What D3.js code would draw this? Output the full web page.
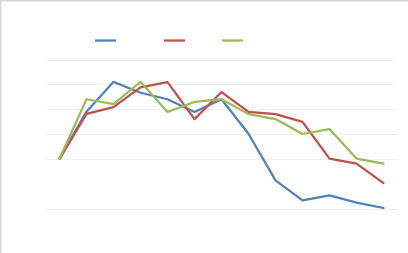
<!DOCTYPE html>
<html>
<head>
<meta charset="utf-8">
<script src="https://cdn.jsdelivr.net/npm/d3@7"></script>
<style>
  body { margin: 0; background: #fff; }
</style>
</head>
<body>
<div id="canvas"></div>
<script>
"use strict"

// chart data
let categories = d3.range(1, 14)
let blueValues = [0, 1.9, 3.1, 2.66, 2.4, 1.89, 2.4, 1.01, -0.87, -1.67, -1.47, -1.76, -1.98]
let redValues = [0, 1.81, 2.08, 2.88, 3.09, 1.6, 2.69, 1.89, 1.8, 1.49, 0.01, -0.19, -0.98]
let greenValues = [0, 2.4, 2.2, 3.1, 1.89, 2.29, 2.4, 1.8, 1.6, 1.0, 1.2, 0.01, -0.19]
let gridTicks = [4, 3, 2, 1, 0, -2]

let series = [
    { values: blueValues, color: "#4f81bd" },
    { values: redValues, color: "#c0504d" },
    { values: greenValues, color: "#9bbb59" }
]

let drawing = d3.select("#canvas")
    .append("svg")
    .attr("width", 408)
    .attr("height", 253)

// chart border (only top and left show)
drawing.append("path")
    .attr("d", "M0.75,253 V0.75 H408")
    .attr("fill", "none")
    .attr("stroke", "#d9d9d9")
    .attr("stroke-width", 1.5)

let x = d3.scaleBand()
    .domain(categories)
    .range([46, 397])

let y = d3.scaleLinear()
    .domain([-2, 4])
    .range([208.5, 59.5])

// gridlines
drawing.append("g")
    .selectAll("line")
    .data(gridTicks)
    .join("line")
    .attr("x1", 46)
    .attr("x2", 397)
    .attr("y1", d => Math.round(y(d)) + 0.5)
    .attr("y2", d => Math.round(y(d)) + 0.5)
    .attr("stroke", "#f0f0f0")
    .attr("stroke-width", 1)

let line = d3.line()
    .x((d, i) => x(categories[i]) + x.bandwidth() / 2)
    .y(d => y(d))

drawing.append("g")
    .selectAll("path")
    .data(series)
    .join("path")
    .attr("d", d => line(d.values))
    .attr("fill", "none")
    .attr("stroke", d => d.color)
    .attr("stroke-width", 2.25)
    .attr("stroke-linejoin", "round")
    .attr("stroke-linecap", "round")

// legend swatches (no text in the picture)
let legendX = d3.scaleOrdinal()
    .domain([0, 1, 2])
    .range([95, 164, 222])

drawing.append("g")
    .selectAll("line")
    .data(series)
    .join("line")
    .attr("x1", (d, i) => legendX(i))
    .attr("x2", (d, i) => legendX(i) + 21)
    .attr("y1", 40.5)
    .attr("y2", 40.5)
    .attr("stroke", d => d.color)
    .attr("stroke-width", 2.25)
</script>
</body>
</html>
